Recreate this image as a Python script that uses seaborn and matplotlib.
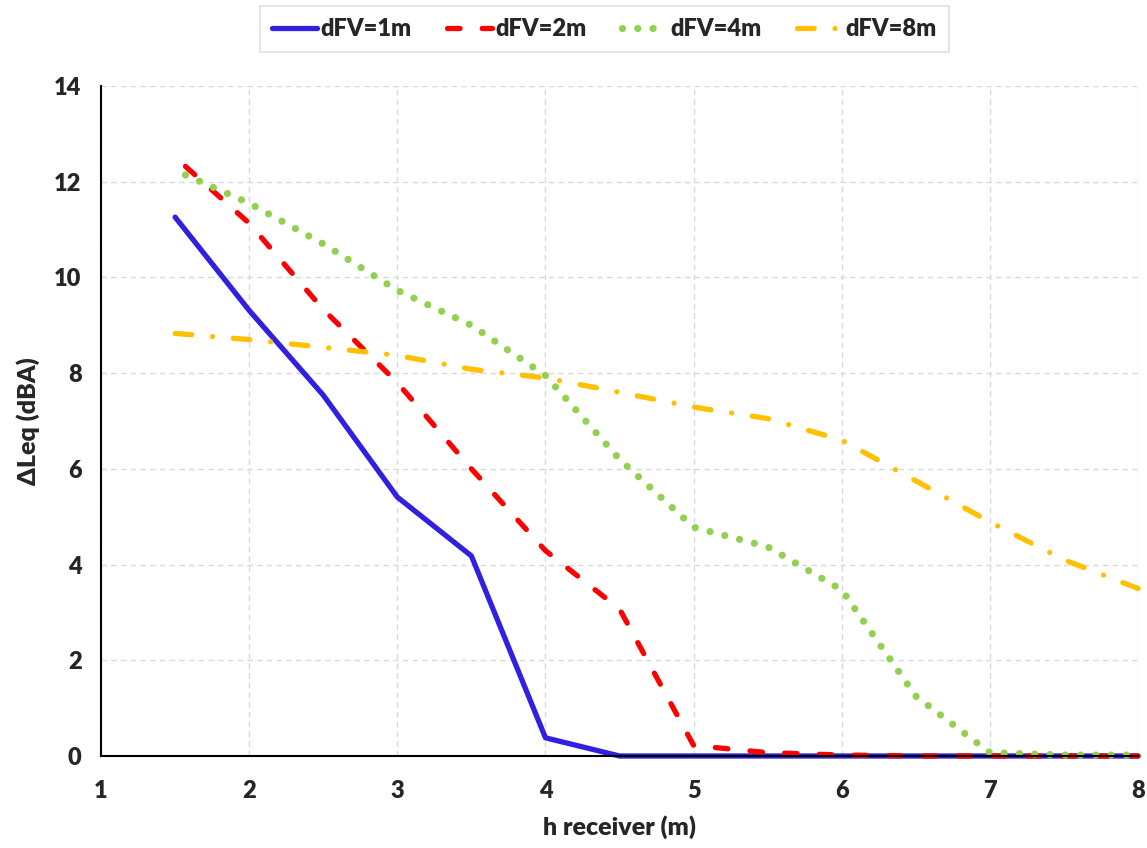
import matplotlib
matplotlib.use('Agg')
import numpy as np
import pandas as pd
import matplotlib.pyplot as plt
import seaborn as sns

#%% datos
x_1m = [1.5, 2, 2.5, 3, 3.5, 4, 4.5, 5, 5.5, 6, 6.5, 7, 7.5, 8]
dfv_1m = [11.26, 9.31, 7.54, 5.41, 4.18, 0.38, 0.0, 0.0, 0.0, 0.0, 0.0, 0.0, 0.0, 0.0]

x_2m = [1.57, 2, 2.5, 3, 3.5, 4, 4.5, 5, 5.5, 6, 6.5, 7, 7.5, 8]
dfv_2m = [12.32, 11.13, 9.33, 7.8, 6.0, 4.29, 3.07, 0.22, 0.07, 0.02, 0.0, 0.0, 0.0, 0.0]

x_4m = [1.57, 2, 2.5, 3, 3.5, 4, 4.5, 5, 5.5, 6, 6.5, 7, 7.5, 8]
dfv_4m = [12.14, 11.55, 10.7, 9.73, 9.0, 7.95, 6.2, 4.78, 4.37, 3.47, 1.25, 0.07, 0.02, 0.02]

x_8m = [1.5, 2, 2.5, 3, 3.5, 4, 4.5, 5, 5.5, 6, 6.5, 7, 7.5, 8]
dfv_8m = [8.83, 8.7, 8.54, 8.37, 8.08, 7.9, 7.6, 7.29, 7.05, 6.6, 5.75, 4.89, 4.1, 3.5]

labels = ['dFV=1m', 'dFV=2m', 'dFV=4m', 'dFV=8m']

#%% tabla larga para seaborn
df = pd.concat([
    pd.DataFrame({'h': x_1m, 'dL': dfv_1m, 'serie': labels[0]}),
    pd.DataFrame({'h': x_2m, 'dL': dfv_2m, 'serie': labels[1]}),
    pd.DataFrame({'h': x_4m, 'dL': dfv_4m, 'serie': labels[2]}),
    pd.DataFrame({'h': x_8m, 'dL': dfv_8m, 'serie': labels[3]}),
])

colores = {'dFV=1m': '#3020DF', 'dFV=2m': '#FF0000', 'dFV=4m': '#92D050', 'dFV=8m': '#FFC000'}
# patrones en pt (se fijan luego sin escalar)
trazos = {'dFV=1m': None, 'dFV=2m': (9, 16), 'dFV=4m': (0.01, 11), 'dFV=8m': (12, 15, 0.01, 15)}
grosor = {'dFV=1m': 3.8, 'dFV=2m': 3.8, 'dFV=4m': 5.2, 'dFV=8m': 3.8}

#%% estilo
sns.set_style('white')
plt.rcParams['font.family'] = ['Lato', 'DejaVu Sans']
plt.rcParams['font.weight'] = 'bold'
plt.rcParams['lines.scale_dashes'] = False

fig = plt.figure(figsize=(11.47, 8.48), dpi=100)
ax = fig.add_axes([0.0881, 0.1085, 0.9041, 0.7901])

sns.lineplot(data=df, x='h', y='dL', hue='serie', palette=colores,
             sort=False, legend=False, ax=ax)

for linea, lab in zip(ax.get_lines(), labels):
    linea.set_linewidth(grosor[lab])
    if trazos[lab] is not None:
        linea.set_dashes(trazos[lab])
    linea.set_dash_capstyle('round')
    linea.set_solid_capstyle('round')
    linea.set_clip_on(False)
    linea.set_label(lab)

ax.set_xlim(1, 8)
ax.set_ylim(0, 14)
ax.set_xticks(range(1, 9))
ax.set_yticks(range(0, 15, 2))
ax.grid(True, color='#D9D9D9', linestyle=(0, (4, 3)), linewidth=1)
ax.set_axisbelow(True)

for s in ['top', 'right']:
    ax.spines[s].set_visible(False)
for s in ['left', 'bottom']:
    ax.spines[s].set_color('black')
    ax.spines[s].set_linewidth(1.5)

ax.tick_params(axis='x', direction='out', length=6, width=1.5, color='black',
               labelsize=17, pad=11)
ax.tick_params(axis='y', length=0, labelsize=17, pad=14)
for t in ax.get_xticklabels() + ax.get_yticklabels():
    t.set_fontweight('heavy')

ax.set_xlabel('h receiver (m)', fontsize=18, fontweight='heavy', labelpad=10)
ax.set_ylabel('ΔLeq (dBA)', fontsize=18, fontweight='heavy', labelpad=10)

#%% leyenda
leg = fig.legend(handles=ax.get_lines(), labels=labels, loc='center',
                 bbox_to_anchor=(0.527, 0.966), ncol=4, frameon=True,
                 fancybox=False, edgecolor='#D9D9D9', handlelength=1.9,
                 handletextpad=0.15, columnspacing=1.5, borderpad=0.5,
                 prop={'size': 17, 'weight': 'heavy'})
leg.get_frame().set_linewidth(1.2)

fig.savefig('out.png', dpi=100)
